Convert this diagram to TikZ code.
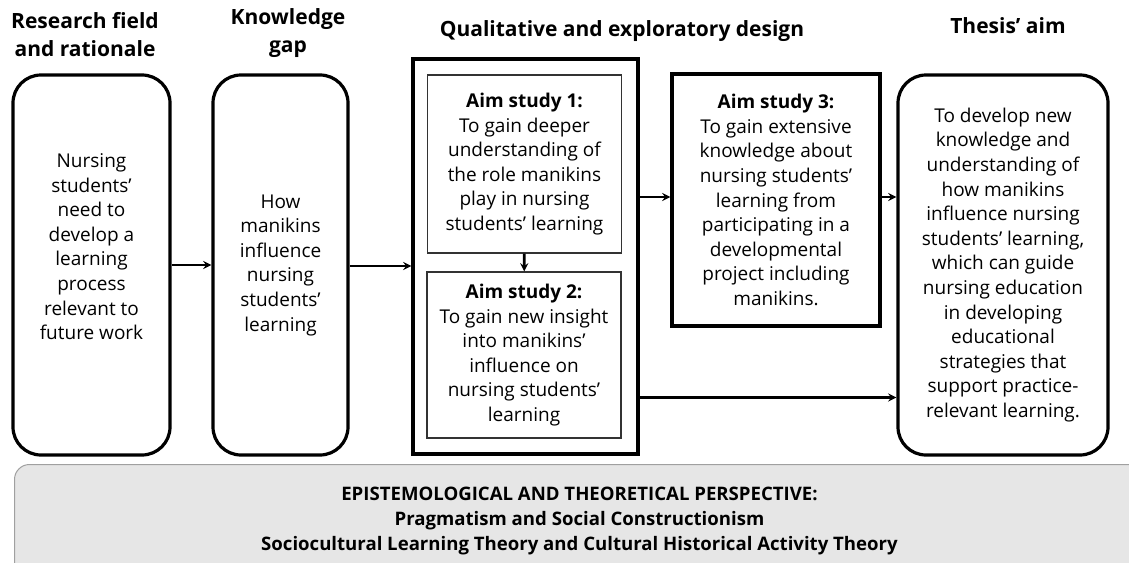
\documentclass[tikz,border=0pt]{standalone}
\usepackage{fontspec}
\setmainfont{Open Sans}
\usepackage{tikz}
\definecolor{panelgray}{HTML}{E6E6E6}
\definecolor{panelline}{HTML}{A0A0A0}
\tikzstyle{roundblock}=[rectangle,rounded corners=28pt,draw=black,line width=3.2pt,align=center,inner sep=0pt]
\tikzstyle{frame}=[rectangle,draw=black,line width=3.2pt,align=center,inner sep=0pt]
\tikzstyle{studybox}=[rectangle,draw=black!80,line width=1.1pt,align=center,inner sep=0pt]
\tikzstyle{heading}=[align=center,font=\bfseries\fontsize{21}{28}\selectfont]
\tikzstyle{perspective}=[rectangle,rounded corners=15pt,draw=panelline,fill=panelgray,line width=1pt,align=center,
    font=\bfseries\fontsize{18.6}{24.8}\selectfont]

\begin{document}
\begin{tikzpicture}[x=1pt,y=-1pt,>=stealth,every node/.style={font=\fontsize{19}{24.6}\selectfont}]
        \useasboundingbox (0,0) rectangle (1129,562);
        \clip (0,0) rectangle (1129,562);

        % column headings
        \node[heading] (hfield) at (85,35) {Research field\\and rationale};
        \node[heading] (hgap) at (288,33) {Knowledge\\gap};
        \node[heading] (hdesign) at (622,31) {Qualitative and exploratory design};
        \node[heading] (haim) at (1008,26) {Thesis’ aim};

        % boxes
        \node[roundblock,minimum width=157pt,minimum height=380pt] (field) at (91.5,265)
            {Nursing\\students’\\need to\\develop a\\learning\\process\\relevant to\\future work\\[12pt]};
        \node[roundblock,minimum width=135pt,minimum height=380pt] (gap) at (280.5,265)
            {How\\manikins\\influence\\nursing\\students’\\learning};
        \node[frame,minimum width=225pt,minimum height=395pt] (design) at (525.5,256.5) {};
        \node[studybox,minimum width=194pt,minimum height=178pt] (study1) at (524.5,164)
            {\textbf{Aim study 1:}\\To gain deeper\\understanding of\\the role manikins\\play in nursing\\students’ learning};
        \node[studybox,minimum width=194pt,minimum height=166pt] (study2) at (524,355)
            {\textbf{Aim study 2:}\\To gain new insight\\into manikins’\\influence on\\nursing students’\\learning};
        \node[frame,minimum width=208pt,minimum height=252pt] (study3) at (776,200)
            {\textbf{Aim study 3:}\\To gain extensive\\knowledge about\\nursing students’\\learning from\\participating in a\\developmental\\project including\\manikins.};
        \node[roundblock,minimum width=210pt,minimum height=380pt] (aim) at (1003,265)
            {To develop new\\knowledge and\\understanding of\\how manikins\\influence nursing\\students’ learning,\\which can guide\\nursing education\\in developing\\educational\\strategies that\\support practice-\\relevant learning.};

        \node[perspective,minimum width=1130pt,minimum height=130pt,anchor=north west] (persp) at (14,464)
            {EPISTEMOLOGICAL AND THEORETICAL PERSPECTIVE:\\Pragmatism and Social Constructionism\\Sociocultural Learning Theory and Cultural Historical Activity Theory\\[-3pt]};

        % connectors
        \coordinate (lowout) at ([yshift=-141pt]design.east);
        \begin{scope}[line width=2.6pt]
        \draw [->] (field) -- (gap);
        \draw [->] ([yshift=-1pt]gap.east) -- ([yshift=-1pt]gap.east -| design.west);
        \draw [->] (study1) -- (study2);
        \draw [->] ([yshift=3pt]design.east |- study3) -- ([yshift=3pt]study3.west);
        \draw [->] ([yshift=3pt]study3.east) -- ([yshift=3pt]study3.east -| aim.west);
        \draw [->] (lowout) -- (lowout -| aim.west);
        \end{scope}
    \end{tikzpicture}
\end{document}
